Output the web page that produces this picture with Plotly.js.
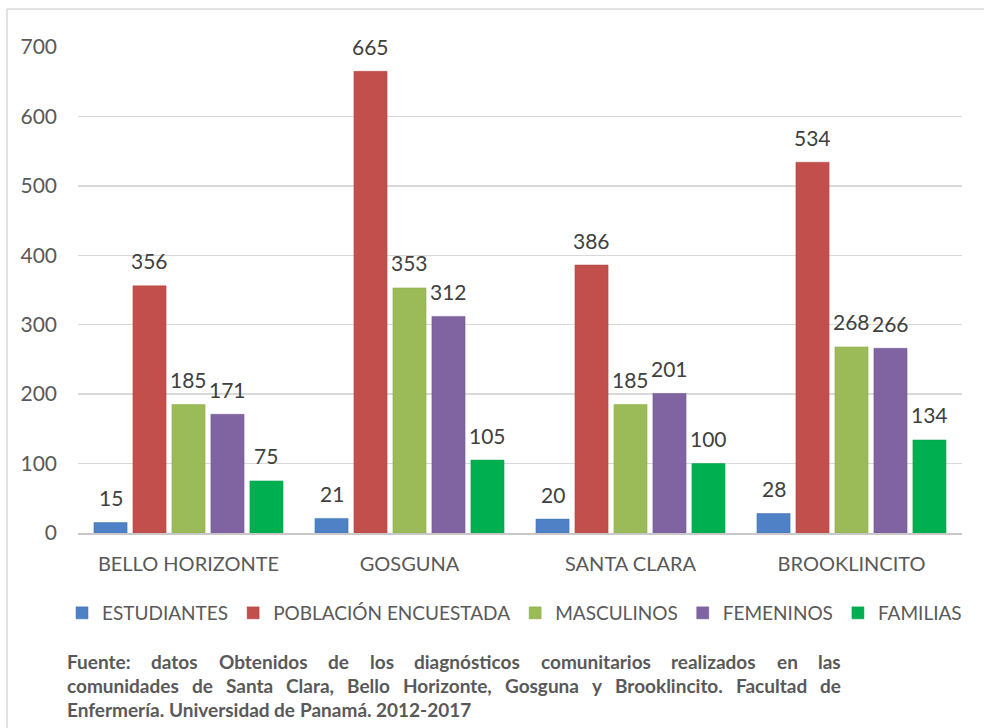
<!DOCTYPE html>
<html>
<head>
<meta charset="utf-8">
<script src="https://cdn.plot.ly/plotly-3.0.1.min.js"></script>
<style>html,body{margin:0;padding:0;background:#fff;}#chart{width:984px;height:728px;}</style>
</head>
<body>
<div id="chart"></div>
<script>
const categories = ["BELLO HORIZONTE", "GOSGUNA", "SANTA CLARA", "BROOKLINCITO"];
const seriesNames = ["ESTUDIANTES", "POBLACIÓN ENCUESTADA", "MASCULINOS", "FEMENINOS", "FAMILIAS"];
const estudiantes = [15, 21, 20, 28];
const poblacion = [356, 665, 386, 534];
const masculinos = [185, 353, 185, 268];
const femeninos = [171, 312, 201, 266];
const familias = [75, 105, 100, 134];
const yTicks = [0, 100, 200, 300, 400, 500, 600, 700];
const footerLines = [
  "Fuente: datos Obtenidos de los diagnósticos comunitarios realizados en las",
  "comunidades de Santa Clara, Bello Horizonte, Gosguna y Brooklincito. Facultad de",
  "Enfermería. Universidad de Panamá. 2012-2017"
];

const allValues = [estudiantes, poblacion, masculinos, femeninos, familias];
const colors = ["#4f81c6", "#c24f4c", "#9bbb59", "#8064a2", "#00b050"];
const lineColors = ["#3f6fad", "#b04440", "#8aab4a", "#6f5592", "#00a048"];
const font = "Lato, 'Open Sans', sans-serif";

const traces = allValues.map((vals, i) => ({
  type: "bar",
  name: seriesNames[i],
  x: categories,
  y: vals,
  marker: {color: colors[i], line: {color: lineColors[i], width: 0.5}},
  hoverinfo: "skip"
}));

// plot area: x 78..962, y 47..533
const plotW = 884, plotH = 486;
const catW = plotW / categories.length;
const bargap = 0.118;
const pitch = catW * (1 - bargap) / 5;

const annotations = [];
allValues.forEach((vals, i) => {
  vals.forEach((v, j) => {
    annotations.push({
      x: categories[j], y: v, xref: "x", yref: "y",
      text: String(v), showarrow: false,
      xshift: (i - 2) * pitch, yshift: 25,
      font: {family: font, size: 21, color: "#404040"}
    });
  });
});

// footer, justified lines (except the last)
const footFontSize = 19;
const cv = document.createElement("canvas").getContext("2d");
cv.font = "bold " + footFontSize + "px Lato";
const footLeft = 66, footRight = 840;
footerLines.forEach((t, k) => {
  const yPaper = -(661 + k * 24 - 533) / plotH;
  const words = t.split(" ");
  const widths = words.map(w => cv.measureText(w).width);
  const total = widths.reduce((a, b) => a + b, 0);
  const justify = k < footerLines.length - 1;
  const gap = justify ? (footRight - footLeft - total) / (words.length - 1) : cv.measureText(" ").width;
  let xpos = footLeft;
  words.forEach((w, m) => {
    annotations.push({
      x: (xpos - 78) / plotW, xref: "paper", xanchor: "left",
      y: yPaper, yref: "paper", yanchor: "middle",
      text: "<b>" + w + "</b>", showarrow: false, borderpad: 0,
      font: {family: font, size: footFontSize, color: "#595959"}
    });
    xpos += widths[m] + gap;
  });
});

const shapes = [
  {type: "line", xref: "paper", yref: "paper", x0: (7 - 78) / plotW, x1: (984 - 78) / plotW,
   y0: (533 - 9) / plotH, y1: (533 - 9) / plotH, line: {color: "#d9d9d9", width: 1.5}},
  {type: "line", xref: "paper", yref: "paper", x0: (7 - 78) / plotW, x1: (7 - 78) / plotW,
   y0: (533 - 9) / plotH, y1: (533 - 730) / plotH, line: {color: "#d9d9d9", width: 1.5}}
];

const layout = {
  width: 984, height: 728,
  margin: {l: 78, r: 22, t: 47, b: 195},
  paper_bgcolor: "#ffffff", plot_bgcolor: "#ffffff",
  barmode: "group", bargap: bargap, bargroupgap: 0.15,
  showlegend: true,
  legend: {
    orientation: "h",
    x: (62 - 78) / plotW, xanchor: "left", y: -(613 - 533) / plotH, yanchor: "middle",
    font: {family: font, size: 19, color: "#595959"},
    itemwidth: 30, tracegroupgap: 0
  },
  xaxis: {
    type: "category", showgrid: false, showline: true, linecolor: "#c8c8c8", linewidth: 1.5,
    ticks: "", ticklabelstandoff: 12,
    tickfont: {family: font, size: 20, color: "#595959"}, fixedrange: true
  },
  yaxis: {
    range: [0, 700], tickvals: yTicks, ticktext: yTicks.map(String),
    showgrid: true, gridcolor: "#d9d9d9", gridwidth: 1.5, zeroline: false,
    showline: false, ticks: "", ticklabelstandoff: 20,
    tickfont: {family: font, size: 21, color: "#595959"}, fixedrange: true
  },
  annotations: annotations,
  shapes: shapes
};

Plotly.newPlot("chart", traces, layout, {displayModeBar: false, staticPlot: true});
</script>
</body>
</html>
